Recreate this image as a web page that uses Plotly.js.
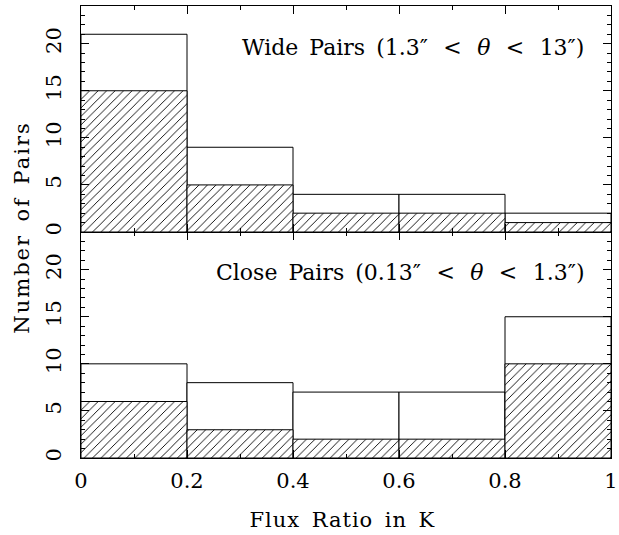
<!DOCTYPE html>
<html>
<head>
<meta charset="utf-8">
<script src="https://cdn.plot.ly/plotly-3.0.1.min.js"></script>
<style>
html,body{margin:0;padding:0;background:#fff;}
#chart g.annotation[data-index="2"] text{letter-spacing:2px;}
#chart g.annotation[data-index="3"] text{letter-spacing:1px;}
</style>
</head>
<body>
<div id="chart" style="width:619px;height:535px;"></div>
<script>
// Bin centres of flux ratio in K (bin width 0.2)
const binCenters = [0.1, 0.3, 0.5, 0.7, 0.9];
const binWidth = 0.2;
// Wide pairs (1.3" < theta < 13")
const wideTotal = [21, 9, 4, 4, 2];
const wideHatched = [15, 5, 2, 2, 1];
// Close pairs (0.13" < theta < 1.3")
const closeTotal = [10, 8, 7, 7, 15];
const closeHatched = [6, 3, 2, 2, 10];
const xTickVals = [0, 0.2, 0.4, 0.6, 0.8, 1];
const xTickText = ["0", "0.2", "0.4", "0.6", "0.8", "1"];
const yTickVals = [0, 5, 10, 15, 20];

const FONT = "DejaVu Serif";
const widths = binCenters.map(() => binWidth);
const EN = "\u2002", WIDE = "\u2002\u2009";

function openBars(y, xa, ya) {
  return {type: "bar", x: binCenters, y: y, width: widths, xaxis: xa, yaxis: ya,
    marker: {color: "white", line: {color: "black", width: 1}}, hoverinfo: "skip", showlegend: false};
}
function hatchBars(y, xa, ya) {
  return {type: "bar", x: binCenters, y: y, width: widths, xaxis: xa, yaxis: ya,
    marker: {color: "white", line: {color: "black", width: 1},
      pattern: {shape: "/", fgcolor: "black", bgcolor: "white", size: 6, solidity: 0.15}},
    hoverinfo: "skip", showlegend: false};
}

const data = [
  openBars(closeTotal, "x", "y"), hatchBars(closeHatched, "x", "y"),
  openBars(wideTotal, "x2", "y2"), hatchBars(wideHatched, "x2", "y2")
];

const xbase = {range: [0, 1], ticks: "inside", ticklen: 8, tickwidth: 1, tickcolor: "black",
  tickvals: xTickVals, ticktext: xTickText,
  minor: {dtick: 0.1, tick0: 0, ticks: "inside", ticklen: 4, tickcolor: "black", tickwidth: 1},
  showline: true, linecolor: "black", linewidth: 1.3, mirror: "allticks",
  showgrid: false, zeroline: false, fixedrange: true,
  tickfont: {family: FONT, size: 21, color: "black"}};
const ybase = {range: [0, 24], ticks: "inside", ticklen: 8, tickwidth: 1, tickcolor: "black",
  tickvals: yTickVals, tickangle: -90,
  minor: {dtick: 1, tick0: 0, ticks: "inside", ticklen: 4, tickcolor: "black", tickwidth: 1},
  showline: true, linecolor: "black", linewidth: 1.3, mirror: "allticks",
  showgrid: false, zeroline: false, fixedrange: true,
  tickfont: {family: FONT, size: 21, color: "black"}, ticklabelstandoff: 10};

const layout = {
  width: 619, height: 535,
  margin: {l: 81, r: 8, t: 6, b: 77},
  paper_bgcolor: "white", plot_bgcolor: "white",
  barmode: "overlay", bargap: 0,
  showlegend: false,
  font: {family: FONT, color: "black"},
  xaxis: Object.assign({}, xbase, {anchor: "y", domain: [0, 1], ticklabelstandoff: 3}),
  yaxis: Object.assign({}, ybase, {anchor: "x", domain: [0, 0.5]}),
  xaxis2: Object.assign({}, xbase, {anchor: "y2", domain: [0, 1], matches: "x", showticklabels: false}),
  yaxis2: Object.assign({}, ybase, {anchor: "x2", domain: [0.5, 1]}),
  annotations: [
    {xref: "paper", yref: "y2", x: 0.952, y: 19.6, xanchor: "right", yanchor: "middle", showarrow: false,
     text: "Wide" + EN + "Pairs" + EN + "(1.3″" + WIDE + "&lt;" + WIDE + "<i>θ</i>" + WIDE + "&lt;" + WIDE + "13″)",
     font: {family: FONT, size: 22, color: "black"}},
    {xref: "paper", yref: "y", x: 0.952, y: 19.7, xanchor: "right", yanchor: "middle", showarrow: false,
     text: "Close" + EN + "Pairs" + EN + "(0.13″" + WIDE + "&lt;" + WIDE + "<i>θ</i>" + WIDE + "&lt;" + WIDE + "1.3″)",
     font: {family: FONT, size: 22, color: "black"}},
    {xref: "paper", yref: "paper", x: -0.111, y: 0.51, xanchor: "center", yanchor: "middle", showarrow: false,
     textangle: -90, text: "Number" + EN + "of" + EN + "Pairs", font: {family: FONT, size: 21, color: "black"}},
    {xref: "paper", yref: "paper", x: 0.493, y: -0.137, xanchor: "center", yanchor: "middle", showarrow: false,
     text: "Flux" + EN + "Ratio" + EN + "in" + EN + "K", font: {family: FONT, size: 21, color: "black"}}
  ]
};

Plotly.newPlot("chart", data, layout, {staticPlot: true, displayModeBar: false});
</script>
</body>
</html>
